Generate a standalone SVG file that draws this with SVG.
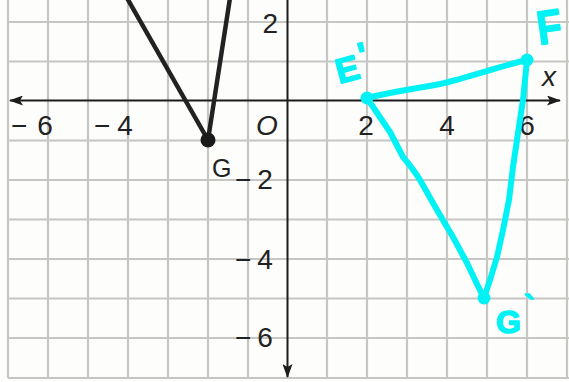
<svg xmlns="http://www.w3.org/2000/svg" width="569" height="382" viewBox="0 0 569 382">
<style>
.grid line{stroke:#c6c6c4;stroke-width:2.2}
.axis{stroke:#1c1c1c;stroke-width:2;fill:none}
.tick{font-family:"Liberation Sans",Arial,sans-serif;font-size:28px;fill:#222}
.it{font-style:italic}
.blk{stroke:#222;stroke-width:4.5;stroke-linecap:round;fill:none}
.cy{stroke:#00f2f5;stroke-width:6;stroke-linecap:round;stroke-linejoin:round;fill:none}
.cyt{font-family:"Liberation Sans",Arial,sans-serif;font-weight:bold;fill:#00f2f5;stroke:#00f2f5;stroke-width:1.5;stroke-linejoin:round}
</style>
<defs>
<marker id="ah" viewBox="0 0 14 10" refX="13" refY="5" markerWidth="14" markerHeight="10" markerUnits="userSpaceOnUse" orient="auto-start-reverse">
<path d="M0,0 L14,5 L0,10 L3,5 Z" fill="#1c1c1c"/>
</marker>
</defs>
<rect width="569" height="382" fill="#fdfdfb"/>
<g id="grid" class="grid">
<line x1="8" y1="0" x2="8" y2="378"/>
<line x1="48" y1="0" x2="48" y2="378"/>
<line x1="88" y1="0" x2="88" y2="378"/>
<line x1="128" y1="0" x2="128" y2="378"/>
<line x1="168" y1="0" x2="168" y2="378"/>
<line x1="208" y1="0" x2="208" y2="378"/>
<line x1="248" y1="0" x2="248" y2="378"/>
<line x1="327" y1="0" x2="327" y2="378"/>
<line x1="367" y1="0" x2="367" y2="378"/>
<line x1="407" y1="0" x2="407" y2="378"/>
<line x1="447" y1="0" x2="447" y2="378"/>
<line x1="487" y1="0" x2="487" y2="378"/>
<line x1="527" y1="0" x2="527" y2="378"/>
<line x1="567" y1="0" x2="567" y2="378"/>
<line x1="8" y1="22" x2="569" y2="22"/>
<line x1="8" y1="61.5" x2="569" y2="61.5"/>
<line x1="8" y1="140.5" x2="569" y2="140.5"/>
<line x1="8" y1="180" x2="569" y2="180"/>
<line x1="8" y1="219.5" x2="569" y2="219.5"/>
<line x1="8" y1="259" x2="569" y2="259"/>
<line x1="8" y1="298.5" x2="569" y2="298.5"/>
<line x1="8" y1="338" x2="569" y2="338"/>
<line x1="8" y1="378" x2="569" y2="378"/>
</g>
<g id="axes">
<line class="axis" x1="10" y1="100.5" x2="560" y2="100.5" marker-start="url(#ah)" marker-end="url(#ah)"/>
<line class="axis" x1="287.5" y1="0" x2="287.5" y2="377" marker-end="url(#ah)"/>
</g>
<g id="tick-labels" class="tick">
<text x="11" y="135">−<tspan dx="10">6</tspan></text>
<text x="94" y="135">−<tspan dx="7">4</tspan></text>
<text x="256" y="135" class="it">O</text>
<text x="366" y="135" text-anchor="middle">2</text>
<text x="447" y="135" text-anchor="middle">4</text>
<text x="527" y="135" text-anchor="middle">6</text>
<text x="542" y="86" class="it">x</text>
<text x="278" y="33" text-anchor="end">2</text>
<text x="235" y="189">−<tspan dx="6">2</tspan></text>
<text x="235" y="269">−<tspan dx="6">4</tspan></text>
<text x="235" y="347">−<tspan dx="6">6</tspan></text>
</g>
<g id="figure-G">
<line class="blk" x1="208" y1="140" x2="127" y2="-2"/>
<line class="blk" x1="208" y1="140" x2="230" y2="-2"/>
<circle cx="208" cy="140" r="7.5" fill="#1a1a1a"/>
<text x="212" y="177" class="tick" style="font-size:25px">G</text>
</g>
<g id="connectors">
<path class="cy" d="M367,98 C395,91 420,88 440,84 C470,77 500,66 527,60"/>
<path class="cy" d="M367,98 L390,132 L403,157 Q414,170 420,180 L437,210 L453,237 L467,263 L477,284 L484,298"/>
<path class="cy" d="M527,60 L523,100 L518,133 L513,167 L509,200 L503,230 L497,257 L490,280 L484,298"/>
</g>
<g id="node-E">
<circle cx="367" cy="98" r="6.5" fill="#00f2f5"/>
<text class="cyt" transform="translate(339,84) rotate(-15)" style="font-size:35px">E<tspan dx="3" dy="-10">'</tspan></text>
</g>
<g id="node-F">
<circle cx="527" cy="60" r="6.5" fill="#00f2f5"/>
<text class="cyt" transform="translate(539,45) rotate(-8) scale(0.85,1)" style="font-size:48px">F</text>
</g>
<g id="node-G">
<circle cx="484" cy="298" r="6.5" fill="#00f2f5"/>
<text class="cyt" x="496" y="333" style="font-size:32px">G<tspan dx="3" dy="-16">`</tspan></text>
</g>
</svg>
